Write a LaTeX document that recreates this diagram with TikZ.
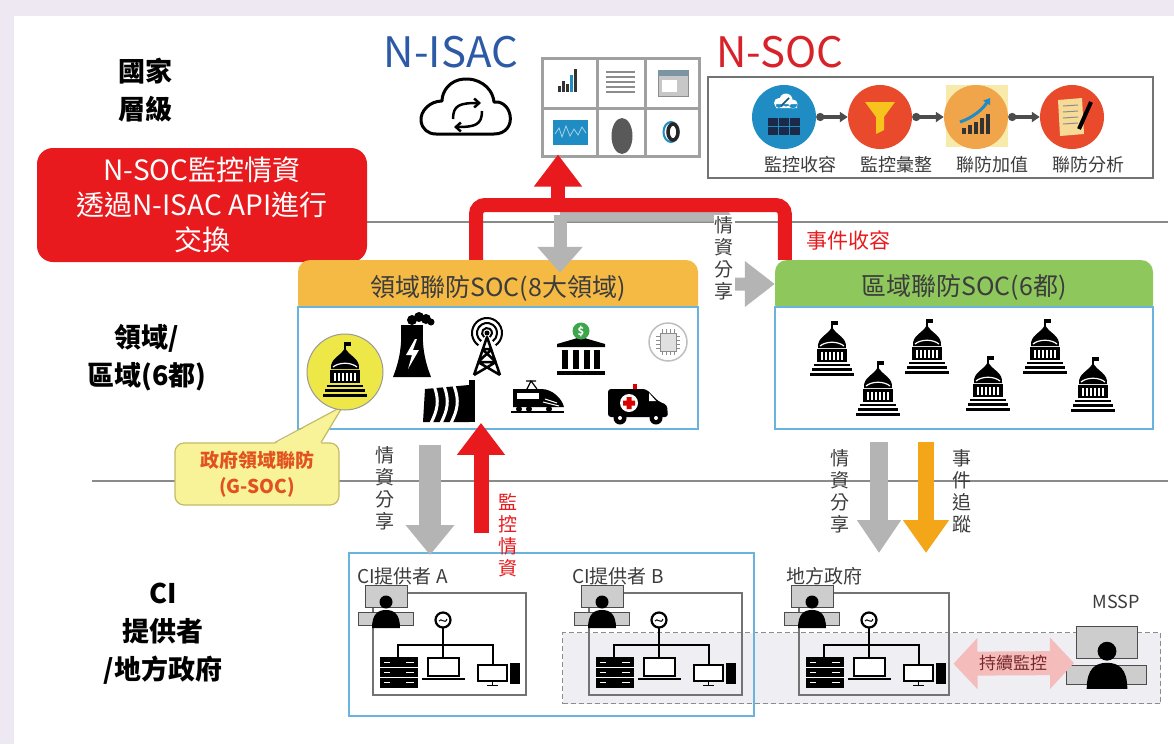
\documentclass[tikz,border=0pt]{standalone}
\usepackage{fontspec}
\setmainfont{Noto Sans CJK TC}
\usetikzlibrary{arrows.meta}

\definecolor{FrameLav}{RGB}{237,232,241}
\definecolor{IsacBlue}{RGB}{44,90,166}
\definecolor{SocRed}{RGB}{214,34,40}
\definecolor{FlowRed}{RGB}{232,26,30}
\definecolor{FlowGray}{RGB}{180,180,180}
\definecolor{FlowOrange}{RGB}{243,166,24}
\definecolor{SectorYellow}{RGB}{245,186,68}
\definecolor{RegionGreen}{RGB}{142,199,92}
\definecolor{PanelBlue}{RGB}{104,180,222}
\definecolor{RuleGray}{RGB}{138,138,138}
\definecolor{FrameGray}{RGB}{160,160,160}
\definecolor{TextGray}{RGB}{60,60,60}
\definecolor{GsocFill}{RGB}{248,243,152}
\definecolor{GsocEdge}{RGB}{196,186,100}
\definecolor{GsocText}{RGB}{226,82,32}
\definecolor{CapitolYellow}{RGB}{238,231,72}
\definecolor{ZoneFill}{RGB}{238,238,243}
\definecolor{WatchPink}{RGB}{245,188,188}
\definecolor{WatchText}{RGB}{120,40,40}
\definecolor{StepBlue}{RGB}{32,140,196}
\definecolor{StepRed}{RGB}{233,74,44}
\definecolor{StepOrange}{RGB}{240,165,74}
\definecolor{StepPale}{RGB}{248,234,170}
\definecolor{RackNavy}{RGB}{28,42,74}
\definecolor{FunnelYellow}{RGB}{246,196,28}
\definecolor{PaperCream}{RGB}{246,218,150}
\definecolor{CoinGreen}{RGB}{62,166,74}
\definecolor{ScreenGray}{RGB}{205,205,205}

\tikzset{
  tier/.style={align=center,inner sep=0pt,font=\fontsize{27}{38}\selectfont\bfseries},
  hdr/.style={rounded corners=12pt,minimum height=56pt,inner sep=0pt,font=\fontsize{25}{28}\selectfont,text=TextGray},
  panel/.style={draw=PanelBlue,line width=1.8pt,inner sep=0pt},
  vlabel/.style={align=center,inner sep=1pt,font=\fontsize{19}{22}\selectfont,text=TextGray},
  grayflow/.style={draw=FlowGray,line width=13pt},
  redflow/.style={draw=FlowRed,line width=14pt},
  steplabel/.style={font=\fontsize{18}{20}\selectfont,text=TextGray},
  stepdisc/.style={circle,minimum size=64pt,inner sep=0pt},
  steplink/.style={draw=black!70,line width=3.5pt,{Circle[length=8pt]}-{Triangle[length=8pt,width=10pt]}},
  sitebox/.style={draw=black!55,line width=1.5pt,minimum width=153pt,minimum height=102pt,inner sep=0pt,anchor=north west},
  sitename/.style={font=\fontsize{19}{20}\selectfont,text=TextGray,anchor=west,inner sep=0pt},
  capitol/.pic={
    \fill (-0.6,-30) rectangle (0.6,-21);
    \fill (0.6,-30) rectangle (5.5,-26.5);
    \fill (-14,-3) .. controls (-15,-14) and (-5,-15) .. (0,-24) .. controls (5,-15) and (15,-14) .. (14,-3) -- cycle;
    \draw[white,line width=1.2pt] (-12,-5) .. controls (-6,-10) and (6,-10) .. (12,-5);
    \fill (-15,-2) rectangle (15,11);
    \foreach \col in {-11,-7,-3,1,5,9} \fill[white] (\col,1) rectangle (\col+2,8.5);
    \fill (-18,12.5) rectangle (18,15);
    \fill (-20,17) rectangle (20,19.5);
    \fill (-22,21.5) rectangle (22,24.5);
  },
  desk/.pic={
    \filldraw[fill=ScreenGray,draw=black!70,line width=1pt] (-21,-21) rectangle (21,1);
    \filldraw[fill=ScreenGray,draw=black!70,line width=1pt] (-28,6) rectangle (27,19);
    \fill (0,-4) circle (6.5);
    \fill (-14,22) .. controls (-14,8) and (-8,4) .. (0,4) .. controls (8,4) and (14,8) .. (14,22) -- cycle;
  },
  lan/.pic={
    \draw[line width=2.2pt] (71,36) -- (71,66) (26,53) -- (121,53) (26,52) -- (26,65) (121,52) -- (121,73);
    \filldraw[fill=white,line width=2.2pt] (71,28) circle (7.5);
    \draw[line width=1pt] (67,29) .. controls (69,25) and (73,33) .. (75,27);
    \fill (8,65) rectangle (46,96);
    \draw[white,line width=0.8pt] (8,75.5) -- (46,75.5) (8,85.5) -- (46,85.5);
    \foreach \row in {70,80,90} \draw[white,line width=1pt] (12,\row) -- (18,\row) (34,\row) -- (42,\row);
    \filldraw[fill=white,line width=1.6pt] (56,66) rectangle (87,84);
    \draw[line width=2.2pt] (50,87) -- (93,87);
    \filldraw[fill=white,line width=1.8pt] (106,73) rectangle (135,89);
    \draw[line width=1.5pt] (120.5,89) -- (120.5,93) (115,93.5) -- (126,93.5);
    \fill (138,71) rectangle (148,92);
  },
  cloudsync/.pic={
    \draw[line width=3pt,line join=round] (-30,27) -- (28,27) .. controls (40,27) and (46,18) .. (44,8)
      .. controls (42,-2) and (34,-6) .. (28,-5) .. controls (26,-22) and (10,-29) .. (-2,-28)
      .. controls (-16,-27) and (-24,-16) .. (-24,-6) .. controls (-36,-6) and (-46,4) .. (-45,14)
      .. controls (-44,22) and (-38,27) .. (-30,27) -- cycle;
    \draw[line width=2.5pt,-{Straight Barb[length=5pt,width=9pt]}] (-13,12) .. controls (-13,-2) and (-6,-4) .. (15,-4);
    \draw[line width=2.5pt,-{Straight Barb[length=5pt,width=9pt]}] (16,4) .. controls (16,18) and (9,20) .. (-12,20);
  },
  plant/.pic={
    \fill (-19,32) .. controls (-12,14) and (-10,0) .. (-11,-20) -- (11,-20) .. controls (10,0) and (12,14) .. (19,32) -- cycle;
    \fill (0,-25) circle (5) (7,-28) circle (5) (14,-26) circle (5) (19,-23) circle (3.5);
    \fill[white] (3,-6) -- (-6,10) -- (0,10) -- (-4,24) -- (7,5) -- (1,5) -- (5,-6) -- cycle;
  },
  mast/.pic={
    \foreach \rad in {5,10,15} \draw[line width=2pt] ([shift={(125:\rad)}]0,-14) arc[start angle=125,end angle=415,radius=\rad];
    \fill (0,-14) circle (2.5);
    \draw[line width=2.5pt,line join=round] (-13,28) -- (0,-10) -- (13,28) (-5,2) -- (5,2) (-9,15) -- (9,15) (-5,2) -- (9,15) (5,2) -- (-9,15) (-9,15) -- (13,28) (9,15) -- (-13,28);
  },
  bank/.pic={
    \fill (-24,-3) -- (-24,-6) -- (0,-13) -- (24,-6) -- (24,-3) -- cycle;
    \foreach \col in {-16,-5.5,5.5,16} \fill (\col-3,0) rectangle (\col+3,19);
    \fill (-24,21) rectangle (24,25);
    \fill[CoinGreen] (0,-19) circle (8.5);
    \node[text=white,inner sep=0pt,font=\fontsize{11}{11}\selectfont\bfseries] at (0,-19) {\$};
  },
  chip/.pic={
    \draw[black!25,line width=1.5pt] (0,0) circle (19);
    \filldraw[fill=black!12,draw=black!45,line width=1pt] (-8,-9) rectangle (8,9);
    \foreach \pin in {-6,-2,2,6} \draw[black!45,line width=0.8pt] (-12,\pin) -- (-8,\pin) (8,\pin) -- (12,\pin) (\pin,-13) -- (\pin,-9) (\pin,9) -- (\pin,13);
  },
  dam/.pic={
    \fill (-24,-12) -- (20,-16) -- (20,21) -- (-26,21) -- cycle;
    \foreach \dx in {-12,-2,8} \draw[white,line width=3pt] (\dx-3,-15) .. controls (\dx+3,0) and (\dx,10) .. (\dx-6,22);
    \fill (20,-21) rectangle (26,21);
  },
  train/.pic={
    \fill (-24,-8) -- (4,-8) .. controls (16,-8) and (25,2) .. (27,10) -- (-24,10) -- cycle;
    \fill[white] (-20,-4) rectangle (2,2);
    \draw[white,line width=1pt] (8,2) -- (20,6) (6,5) -- (22,9);
    \draw[line width=1.2pt] (-10,-8) -- (-6,-16) -- (0,-8) (-11,-16) -- (-1,-16);
    \fill (-26,14) rectangle (27,16);
    \fill (-18,12) circle (3) (-8,12) circle (3) (12,12) circle (3);
  },
  ambulance/.pic={
    \fill[rounded corners=3pt] (-30,-14) -- (8,-14) -- (20,-2) -- (29,2) -- (30,14) -- (-30,14) -- cycle;
    \fill[white] (11,-10) -- (18,-2) -- (11,-2) -- cycle;
    \fill[white] (-9,0) circle (9);
    \fill[red!85!black] (-11.5,-6) rectangle (-6.5,6) (-15,-2.5) rectangle (-3,2.5);
    \fill[red!85!black] (-5,-19) rectangle (-1,-14);
    \fill (-18,15) circle (6.5) (18,15) circle (6.5);
    \fill[white] (-18,15) circle (2) (18,15) circle (2);
  },
}

\begin{document}
\begin{tikzpicture}[x=1pt,y=-1pt]
  \useasboundingbox (0,0) rectangle (1174,744);
  \fill[FrameLav] (0,0) rectangle (1174,744);
  \fill[white] (14,16) rectangle (1174,744);
  \draw[RuleGray,line width=2.5pt] (92,222) -- (1168,222);
  \draw[RuleGray,line width=2.5pt] (92,481) -- (1168,481);

  % national level
  \node[tier] (national) at (145,90) {國家\\層級};
  \node[text=IsacBlue,inner sep=0pt,font=\fontsize{42}{46}\selectfont] (isac) at (451,52) {N-ISAC};
  \pic at (466,107) {cloudsync};
  \node[draw=FrameGray,line width=3pt,fill=white,minimum width=157pt,minimum height=98pt,inner sep=0pt] (dash) at (621,107) {};
  \draw[FrameGray,line width=3pt] (597,58) -- (597,156) (645,58) -- (645,156) (542,108) -- (700,108);
  \foreach \bx/\bh in {558/6,562/11,566/8,570/17,574/23} \fill[black!80] (\bx,92) rectangle ++(3,-\bh);
  \fill[StepBlue] (570,92) rectangle ++(3,-17);
  \foreach \ly in {72,77,82,87,92} \draw[black!45,line width=1.2pt] (606,\ly) -- (635,\ly);
  \filldraw[fill=black!22,draw=black!45] (658,70) rectangle (688,96);
  \fill[StepBlue!45!black!55] (658,70) rectangle (688,76);
  \fill[white] (662,80) rectangle (677,92);
  \fill[StepBlue] (553,120) rectangle (588,145);
  \draw[white!60!StepBlue,line width=0.8pt] (555,134) -- (559,128) -- (562,137) -- (566,126) -- (570,136) -- (574,129) -- (578,135) -- (582,127) -- (586,133);
  \fill[black!65] (622,136) ellipse (10.5 and 18);
  \draw[StepBlue,line width=2pt] (671,132) ellipse (7.5 and 10);
  \draw[black!85,line width=3.5pt] (673,132) ellipse (5 and 8);

  \node[text=SocRed,inner sep=0pt,font=\fontsize{42}{46}\selectfont] (nsoc) at (780,52) {N-SOC};
  \node[draw=black!55,line width=1.5pt,minimum width=445pt,minimum height=101pt] (socbox) at (930.5,127.5) {};
  \fill[StepPale] (946,85) rectangle (1008,147);
  \node[stepdisc,fill=StepBlue] (collect) at (784,117) {};
  \node[stepdisc,fill=StepRed] (merge) at (880,117) {};
  \node[stepdisc,fill=StepOrange] (enrich) at (976,117) {};
  \node[stepdisc,fill=StepRed] (analyse) at (1072,117) {};
  \draw[steplink] (collect) -- (merge);
  \draw[steplink] (merge) -- (enrich);
  \draw[steplink] (enrich) -- (analyse);
  % collect: rack under a cloud
  \foreach \cx in {-11,0,11} \foreach \cy in {5,14} \fill[RackNavy] (784+\cx-5,117+\cy-4) rectangle ++(10,8);
  \fill[white] (779,103) circle (5) (786,100) circle (6.5) (793,104) circle (4.5) (776,104) rectangle (797,108);
  \draw[StepBlue!60!black,line width=1.5pt] (781,106) -- (789,98);
  % merge: funnel
  \fill[FunnelYellow] (865,102) -- (895,102) -- (884,117) -- (884,130) -- (876,134) -- (876,117) -- cycle;
  % enrich: rising bars
  \foreach \bx/\bh in {962/6,968/9,974/12,980/16,986/20} \fill[black!80] (\bx,134) rectangle ++(4,-\bh);
  \draw[StepBlue,line width=3pt,-{Triangle[length=6pt,width=8pt]}] (960,122) .. controls (972,118) and (982,110) .. (990,98);
  % analyse: sheet and pen
  \fill[PaperCream] (1058,100) -- (1082,98) -- (1084,134) -- (1060,136) -- cycle;
  \foreach \ly in {106,112,118,124} \draw[black!45,line width=1pt] (1063,\ly) -- (1078,\ly-1);
  \draw[black,line width=4pt] (1091,102) -- (1079,129);
  \node[steplabel] (collectlbl) at (800,165) {監控收容};
  \node[steplabel] (mergelbl) at (896,165) {監控彙整};
  \node[steplabel] (enrichlbl) at (992,165) {聯防加值};
  \node[steplabel] (analyselbl) at (1088,165) {聯防分析};

  \node[fill=FlowRed,rounded corners=16pt,minimum width=330pt,minimum height=114pt,inner sep=0pt,text=white,align=center,font=\fontsize{28}{35}\selectfont] (apibox) at (202,205) {N-SOC監控情資\\透過N-ISAC API進行\\交換};

  % sector and regional level
  \node[tier] (sector) at (147,358) {領域/\\區域(6都)};
  \node[hdr,fill=SectorYellow,minimum width=400pt] (sochdr) at (498,288) {\raisebox{5pt}{領域聯防SOC(8大領域)}};
  \node[panel,fill=white,minimum width=400pt,minimum height=122pt] (sectorbox) at (498,368) {};
  \node[hdr,fill=RegionGreen,minimum width=378pt] (regionhdr) at (964,288) {\raisebox{5pt}{區域聯防SOC(6都)}};
  \node[panel,fill=white,minimum width=378pt,minimum height=122pt] (regionbox) at (964,368) {};

  \node[draw=GsocEdge,line width=1.2pt,fill=GsocFill,rounded corners=9pt,minimum width=164pt,minimum height=62pt,inner sep=0pt,align=center,text=GsocText,font=\fontsize{19}{26}\selectfont\bfseries] (gsoc) at (257,474) {政府領域聯防\\(G-SOC)};
  \fill[GsocFill] ([xshift=18pt,yshift=-1.5pt]gsoc.north) -- (343,406) -- ([xshift=64pt,yshift=-1.5pt]gsoc.north) -- cycle;
  \draw[GsocEdge,line width=1.2pt] ([xshift=18pt]gsoc.north) -- (343,406) -- ([xshift=64pt]gsoc.north);
  \node[circle,fill=CapitolYellow,draw=black!40,line width=1pt,minimum size=76pt] (gsocicon) at (345,372) {};
  \pic at (345,372) {capitol};
  \pic at (412,345) {plant};
  \pic at (487,347) {mast};
  \pic at (581,350) {bank};
  \pic at (668,342) {chip};
  \pic at (449,401) {dam};
  \pic at (537,397) {train};
  \pic at (638,403) {ambulance};
  \foreach \hx/\hy in {832/351,878/391,927/349,988/386,1045/349,1093/387}
    \pic at (\hx,\hy) {capitol};

  % exchange with N-ISAC
  \coordinate (grayjoin) at (560,215);
  \coordinate (redjoin) at (558,205);
  \draw[grayflow,-{Triangle[length=26pt,width=44pt]}] (grayjoin) -- ([yshift=-13pt]sochdr.north -| grayjoin);
  \draw[grayflow,rounded corners=6pt,-{Triangle[length=30pt,width=44pt]}] (grayjoin) -| ([xshift=-49pt,yshift=4pt]regionhdr.west) -- ([yshift=4pt]regionhdr.west);
  \draw[redflow,rounded corners=9pt] ([xshift=-22pt]sochdr.north) |- (redjoin) -| ([xshift=10pt]regionhdr.north west);
  \draw[redflow,-{Triangle[length=32pt,width=46pt]}] (redjoin) -- ([yshift=3pt]dash.south -| redjoin);
  \node[vlabel,fill=white] (sharetop) at (724,258) {情\\資\\分\\享};
  \node[text=FlowRed,inner sep=0pt,font=\fontsize{21}{24}\selectfont] (intake) at (848,240) {事件收容};

  % provider level
  \node[tier] (local) at (163,634) {CI\\提供者\\/地方政府};
  \node[draw=black!45,dash pattern=on 5pt off 3pt,line width=1.3pt,fill=ZoneFill,minimum width=598pt,minimum height=71pt,inner sep=0pt,anchor=north west] (msspzone) at (562,632) {};
  \node[panel,minimum width=405pt,minimum height=163pt,anchor=north west] (cibox) at (348,552) {};
  \node[sitebox] (provA) at (372,592) {};
  \node[sitebox] (provB) at (588,592) {};
  \node[sitebox,minimum width=150pt] (localgov) at (798,592) {};
  \node[sitename] (provAlbl) at (357,576) {CI提供者 A};
  \node[sitename] (provBlbl) at (572,576) {CI提供者 B};
  \node[sitename] (localgovlbl) at (786,576) {地方政府};
  \node[steplabel] (mssp) at (1116,602) {MSSP};
  \foreach \sx in {372,588,798} {
    \pic at (\sx,592) {lan};
    \pic at (\sx+14,606) {desk};
  }
  \coordinate (msspdesk) at (1108,663);
  \pic[scale=1.45] at (1107,657) {desk};
  \draw[draw=WatchPink,line width=24pt,{Triangle[length=24pt,width=50pt]}-{Triangle[length=24pt,width=50pt]}] ([xshift=4pt,yshift=-20pt]localgov.east) -- ([xshift=-34pt]msspdesk);
  \node[text=WatchText,inner sep=0pt,font=\fontsize{17}{20}\selectfont] (watch) at (1013,663) {持續監控};

  % flows between levels
  \coordinate (sharex) at (430,0);
  \coordinate (alertx) at (481,0);
  \coordinate (rgnx) at (879,0);
  \coordinate (tracex) at (926,0);
  \draw[draw=FlowGray,line width=22pt,-{Triangle[length=30pt,width=47pt]}] ([yshift=-15pt]sectorbox.south -| sharex) -- ([yshift=-3pt]cibox.north -| sharex);
  \draw[draw=FlowRed,line width=15pt,-{Triangle[length=32pt,width=46pt]}] ([yshift=19pt]cibox.north -| alertx) -- ([yshift=7pt]sectorbox.south -| alertx);
  \draw[draw=FlowGray,line width=18pt,-{Triangle[length=33pt,width=42pt]}] ([yshift=-12pt]regionbox.south -| rgnx) -- ([yshift=39pt]localgov.north -| rgnx);
  \draw[draw=FlowOrange,line width=16pt,-{Triangle[length=33pt,width=44pt]}] ([yshift=-12pt]regionbox.south -| tracex) -- ([yshift=39pt]localgov.north -| tracex);
  \node[vlabel] (sharemid) at (385,488) {情\\資\\分\\享};
  \node[vlabel,text=FlowRed] (alertmid) at (508,535) {監\\控\\情\\資};
  \node[vlabel] (sharergn) at (840,491) {情\\資\\分\\享};
  \node[vlabel] (tracergn) at (962,491) {事\\件\\追\\蹤};
\end{tikzpicture}
\end{document}
